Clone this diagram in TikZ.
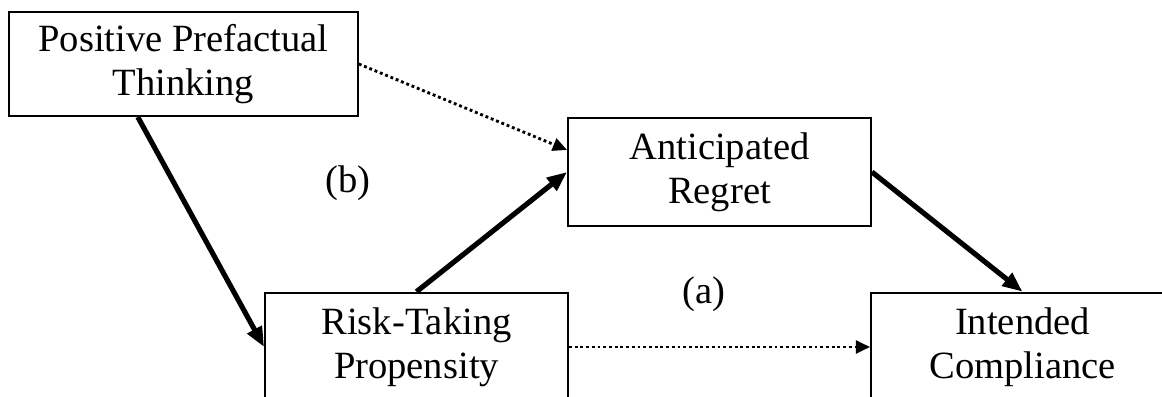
\documentclass[tikz,border=0pt]{standalone}
\usepackage{fontspec}
\setmainfont{Liberation Serif}
\usetikzlibrary{arrows.meta,positioning}

\begin{document}
\begin{tikzpicture}[
          x=0.35pt, y=-0.35pt,
          every node/.style={font=\fontsize{13.5}{15.5}\selectfont},
          box/.style={draw, line width=0.7pt, minimum width=106pt, minimum height=38pt, align=center, inner sep=0pt},
          wide/.style={box, minimum width=122pt, minimum height=36.4pt},
          arr/.style={-{Triangle[length=7pt,width=5.5pt]}, line width=1.8pt},
          darr/.style={-{Triangle[length=5pt,width=4.5pt]}, line width=1pt, dash pattern=on 1pt off 1pt},
          lab/.style={inner sep=0pt},
        ]
          \useasboundingbox (0,0) rectangle (1162,397);
          \clip (0,0) rectangle (1162,397);
          \node[wide] (ppt)    at (183.5,64)  {Positive Prefactual\\Thinking};
          \node[box]  (regret) at (719.5,172) {Anticipated\\Regret};
          \node[box]  (risk)   at (416.5,347) {Risk-Taking\\Propensity};
          \node[box]  (comply) at (1022.5,347) {Intended\\Compliance};
          \node[lab]  (b) at (348,183) {(b)};
          \node[lab]  (a) at (704,294) {(a)};
          \draw[arr]  ([xshift=-16pt]ppt.south) -- (risk.west);
          \draw[darr] (ppt.east) -- ([yshift=7.7pt]regret.west);
          \draw[arr]  (risk.north) -- (regret.west);
          \draw[arr]  (regret.east) -- (comply.north);
          \draw[darr] (risk.east) -- (comply.west);
        \end{tikzpicture}
\end{document}
